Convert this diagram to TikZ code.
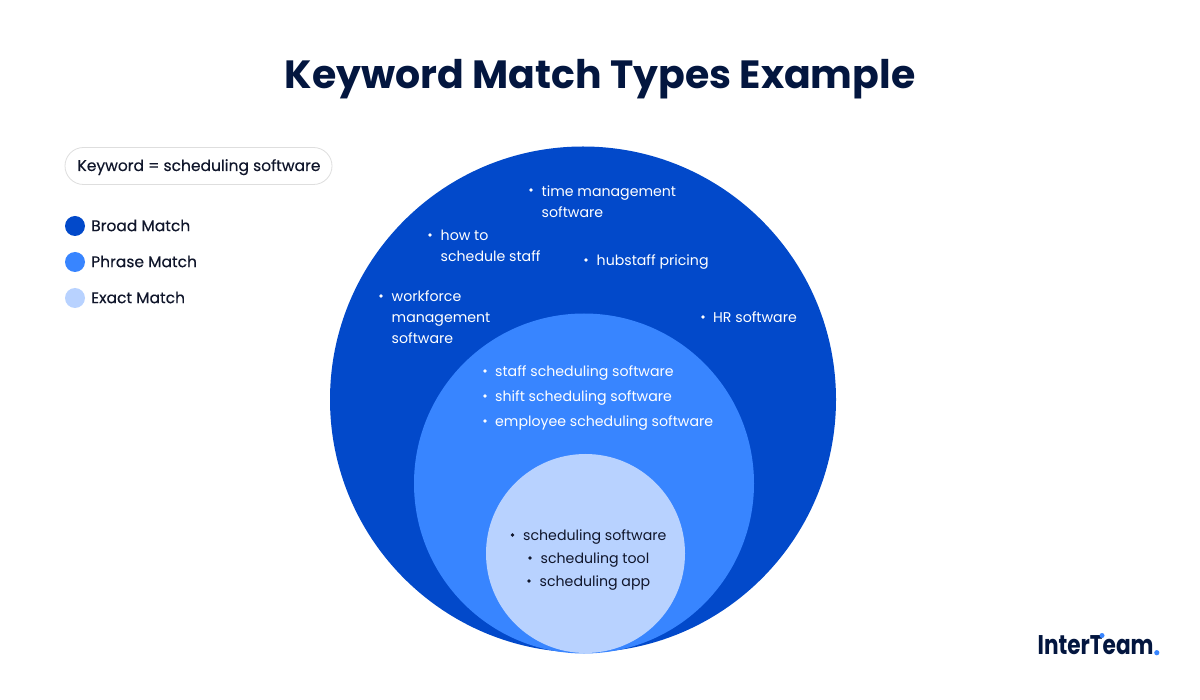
\documentclass[tikz,border=0pt]{standalone}
\usepackage{fontspec}
\setmainfont{Poppins}
\newfontfamily\medfont[FakeBold=0.25]{Poppins}
\definecolor{navy}{HTML}{03163F}
\definecolor{broad}{HTML}{0249CA}
\definecolor{phrase}{HTML}{3885FF}
\definecolor{exact}{HTML}{B8D2FF}
\definecolor{pill}{HTML}{DEDEDE}
\definecolor{ink}{HTML}{10162B}
\newcommand{\bodyfont}{\fontsize{14.15}{21}\selectfont}
\newcommand{\legendfont}{\medfont\fontsize{15.5}{21}\selectfont}
\tikzset{
 zone/.style={circle,inner sep=0pt,outer sep=0pt},
 swatch/.style={circle,inner sep=0pt,minimum size=20pt},
 legendtext/.style={anchor=west,inner sep=0pt,text=ink,font=\legendfont},
 item/.style={anchor=west,inner sep=0pt,text=white,font=\bodyfont,align=left},
 lineitem/.style={item,anchor=base west},
 darkitem/.style={lineitem,text=ink},
 dotw/.style={circle,fill=white,inner sep=0pt,minimum size=3.6pt},
 dotk/.style={circle,fill=ink,inner sep=0pt,minimum size=3.6pt},
}
\begin{document}
\begin{tikzpicture}[x=1pt,y=-1pt]
\useasboundingbox (0,0) rectangle (1200,700);
\fill[white] (0,0) rectangle (1200,700);
\node[text=navy,font=\fontsize{39.4}{48}\selectfont\bfseries,anchor=base,inner sep=0pt] (title) at (600,89) {Keyword Match Types Example};
% pill
\node[draw=pill,line width=0.8pt,rounded corners=18.5pt,minimum width=267pt,minimum height=37pt,inner sep=0pt] (kw) at (198.5,166) {};
\node[anchor=base,inner sep=0pt,text=ink,font=\legendfont] (kwt) at (199,171) {Keyword = scheduling software};
% legend
\node[swatch,fill=broad] (s1) at (75,226) {};
\node[swatch,fill=phrase] (s2) at (75,262) {};
\node[swatch,fill=exact] (s3) at (75,298) {};
\node[legendtext] (l1) at (91,225.5) {Broad Match};
\node[legendtext] (l2) at (91,261.5) {Phrase Match};
\node[legendtext] (l3) at (91,297.5) {Exact Match};
% circles
\node[zone,fill=broad,minimum size=506pt] (outer) at (583,399.5) {};
\node[zone,fill=phrase,minimum size=340pt] (middle) at (584,483.5) {};
\node[zone,fill=exact,minimum size=199pt] (inner) at (585.5,553.5) {};
% broad items
\node[dotw] (d1) at (531,190) {};
\node[item] (t1) at (541.5,201.2) {time management\\software};
\node[dotw] (d2) at (430,235) {};
\node[item] (t2) at (440.5,246) {how to\\schedule staff};
\node[dotw] (d3) at (586,260) {};
\node[lineitem] (t3) at (596.5,265.7) {hubstaff pricing};
\node[dotw] (d4) at (381,296) {};
\node[item] (t4) at (391.5,317.5) {workforce\\management\\software};
\node[dotw] (d5) at (703,317) {};
\node[lineitem] (t5) at (713,322.7) {HR software};
% phrase items
\node[dotw] (d6) at (485,371) {};
\node[lineitem] (t6) at (495,376.7) {staff scheduling software};
\node[dotw] (d7) at (485,396) {};
\node[lineitem] (t7) at (495,401.7) {shift scheduling software};
\node[dotw] (d8) at (485,421) {};
\node[lineitem] (t8) at (495,426.7) {employee scheduling software};
% exact items
\node[dotk] (d9) at (512.5,535) {};
\node[darkitem] (t9) at (523,540) {scheduling software};
\node[dotk] (d10) at (530,558) {};
\node[darkitem] (t10) at (540.5,563) {scheduling tool};
\node[dotk] (d11) at (529,581) {};
\node[darkitem] (t11) at (539.5,586) {scheduling app};
% logo
\node[anchor=base west,inner sep=0pt,text=navy,font=\fontsize{27}{30}\selectfont\bfseries] (logo) at (1037.5,654) {\scalebox{0.8}[1]{InterTeam}};
\fill[phrase] (1156.8,652.7) circle (2.6pt);
\fill[phrase] (1102,635.5) circle (2.5pt);
\end{tikzpicture}
\end{document}
